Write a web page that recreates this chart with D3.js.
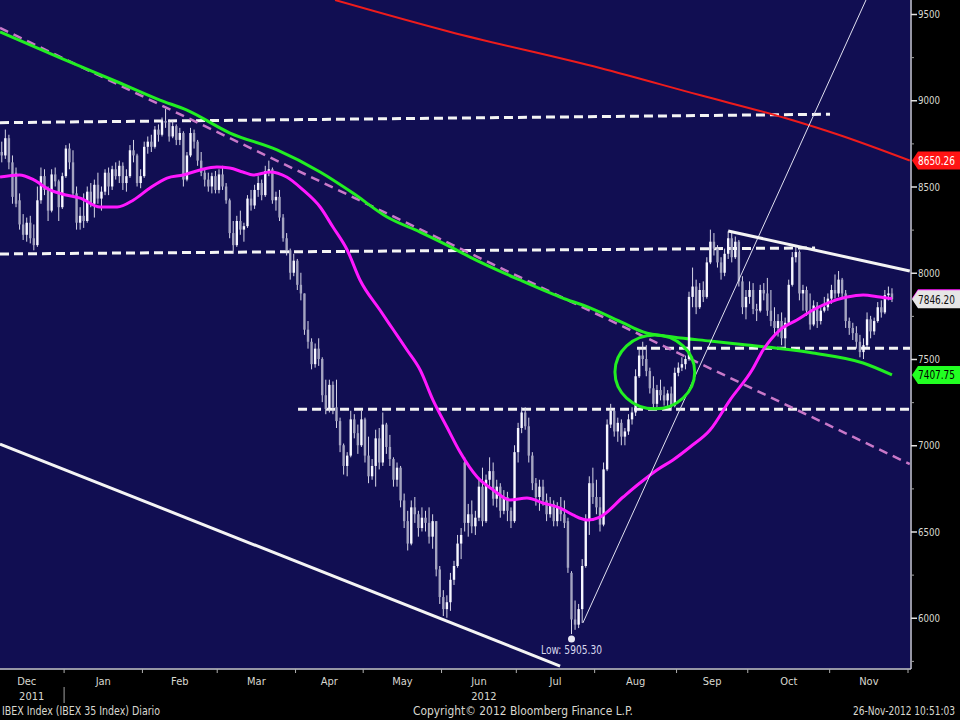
<!DOCTYPE html>
<html>
<head>
<meta charset="utf-8">
<script src="https://cdn.jsdelivr.net/npm/d3@7"></script>
<style>
html, body { margin: 0; padding: 0; background: #000; }
svg { display: block; font-family: "Liberation Sans Narrow", "DejaVu Sans Condensed", "Liberation Sans", sans-serif; }
</style>
</head>
<body>
<svg id="chart" width="960" height="720"></svg>
<script>
// IBEX 35 daily candles, [open, high, low, close], one array per month
const dec11 = [[8700,8760,8640,8680],[8680,8830,8660,8780],[8780,8800,8600,8640],[8640,8680,8400,8440],[8580,8610,8380,8400],[8420,8460,8250,8280],[8280,8340,8190,8220],[8220,8320,8180,8290],[8290,8330,8170,8200],[8200,8280,8130,8160],[8160,8500,8150,8420],[8420,8610,8400,8560],[8560,8600,8450,8480],[8480,8500,8300,8360],[8360,8600,8350,8570],[8570,8610,8500,8530],[8530,8540,8300,8380],[8380,8580,8370,8560]];
const jan12 = [[8560,8740,8550,8720],[8720,8750,8600,8640],[8640,8710,8440,8460],[8460,8500,8250,8290],[8290,8380,8250,8330],[8330,8460,8260,8300],[8300,8500,8290,8470],[8470,8520,8380,8400],[8400,8540,8320,8510],[8510,8580,8400,8430],[8430,8500,8360,8470],[8470,8600,8450,8580],[8580,8610,8450,8500],[8500,8620,8480,8600],[8600,8640,8540,8560],[8560,8650,8520,8620],[8620,8640,8480,8520],[8520,8600,8470,8560],[8560,8740,8550,8710],[8710,8770,8640,8680],[8680,8690,8500,8520],[8520,8600,8490,8560]];
const feb12 = [[8560,8760,8550,8730],[8730,8790,8690,8760],[8760,8800,8700,8730],[8730,8850,8720,8830],[8830,8860,8760,8800],[8800,8900,8790,8880],[8880,8950,8840,8870],[8870,8890,8760,8790],[8790,8880,8780,8850],[8850,8860,8740,8770],[8770,8840,8740,8810],[8810,8820,8500,8540],[8540,8700,8530,8680],[8680,8840,8670,8810],[8810,8830,8720,8760],[8760,8770,8620,8650],[8650,8700,8560,8580],[8580,8600,8500,8540],[8540,8580,8470,8500],[8500,8580,8460,8560],[8560,8590,8460,8480]];
const mar12 = [[8480,8600,8460,8570],[8570,8620,8480,8500],[8500,8520,8400,8420],[8420,8430,8200,8230],[8230,8300,8110,8160],[8160,8330,8150,8300],[8300,8360,8220,8250],[8250,8290,8180,8270],[8270,8450,8260,8430],[8430,8480,8360,8390],[8390,8510,8370,8480],[8480,8560,8440,8520],[8520,8540,8420,8450],[8450,8620,8440,8590],[8590,8650,8560,8600],[8600,8610,8400,8420],[8420,8470,8360,8440],[8440,8480,8300,8320],[8320,8340,8180,8200],[8200,8230,8100,8130],[8130,8140,7960,8000],[8000,8110,7980,8070]];
const apr12 = [[8070,8080,7900,7930],[7930,8000,7840,7880],[7880,7880,7640,7670],[7670,7720,7560,7600],[7600,7620,7440,7470],[7470,7590,7450,7560],[7560,7620,7460,7500],[7500,7510,7250,7290],[7290,7380,7180,7210],[7210,7380,7190,7350],[7350,7370,7180,7220],[7220,7380,7100,7140],[7140,7160,6960,7000],[7000,7010,6830,6880],[6880,6960,6820,6940],[6940,7200,6930,7150],[7150,7180,7040,7070],[7070,7120,6950,7000],[7000,7200,6990,7150]];
const may12 = [[7150,7160,6900,6940],[6940,7050,6780,6820],[6820,6920,6800,6880],[6880,7090,6760,7040],[7040,7100,6860,6900],[6900,7190,6880,7120],[7120,7130,6950,6990],[6990,7060,6880,6920],[6920,6930,6760,6800],[6800,6900,6760,6870],[6870,6880,6640,6680],[6680,6720,6520,6560],[6560,6620,6390,6430],[6430,6680,6420,6640],[6640,6700,6550,6600],[6600,6620,6470,6520],[6520,6640,6500,6580],[6580,6620,6500,6550],[6550,6640,6430,6470],[6470,6600,6400,6560],[6560,6560,6240,6280],[6280,6300,6080,6120]];
const jun12 = [[6120,6160,6010,6050],[6050,6130,6000,6090],[6090,6260,6040,6220],[6220,6330,6190,6300],[6300,6480,6290,6430],[6430,6520,6340,6480],[6900,6930,6500,6550],[6550,6660,6470,6600],[6600,6680,6490,6530],[6530,6620,6480,6580],[6580,6800,6560,6760],[6760,6870,6530,6560],[6560,6830,6550,6800],[6800,6930,6760,6850],[6850,6900,6650,6690],[6690,6800,6640,6760],[6760,6780,6580,6620],[6620,6740,6600,6700],[6700,6730,6560,6620],[6620,6640,6520,6560],[6560,7000,6550,6960]];
const jul12 = [[6960,7130,6900,7100],[7100,7220,7070,7190],[7190,7220,7090,7110],[7110,7160,6900,6940],[6940,6960,6740,6780],[6780,6810,6650,6700],[6700,6800,6620,6760],[6760,6800,6650,6680],[6680,6720,6560,6600],[6600,6700,6580,6660],[6660,6680,6530,6560],[6560,6670,6530,6640],[6640,6700,6560,6600],[6600,6680,6520,6550],[6560,6580,6260,6290],[6260,6270,5905.3,5990],[5990,6100,5930,5960],[5960,6080,5940,6050],[6050,6340,5970,6300],[6300,6600,6290,6560],[6560,6820,6480,6780],[6780,6870,6660,6700]];
const aug12 = [[6700,6800,6600,6640],[6640,6700,6500,6540],[6540,6900,6530,6860],[6860,7150,6850,7120],[7120,7240,7100,7200],[7200,7210,7050,7080],[7080,7160,7020,7130],[7130,7150,7000,7050],[7050,7100,7000,7080],[7080,7180,7060,7150],[7150,7220,7120,7190],[7190,7440,7170,7400],[7400,7560,7390,7520],[7520,7600,7460,7500],[7500,7580,7400,7430],[7430,7450,7300,7330],[7330,7400,7210,7240],[7240,7350,7220,7320],[7320,7380,7260,7290],[7290,7340,7230,7260],[7260,7320,7210,7300],[7300,7340,7200,7230],[7230,7450,7220,7420]];
const sep12 = [[7420,7480,7400,7450],[7450,7510,7430,7470],[7470,7520,7440,7500],[7500,7890,7490,7860],[7860,8030,7800,7920],[7920,7960,7760,7800],[7800,7940,7790,7900],[7900,7950,7830,7860],[7860,8090,7850,8060],[8060,8250,8050,8180],[8180,8230,8100,8140],[8140,8160,8030,8060],[8060,8090,7960,8000],[8000,8140,7980,8110],[8110,8240,8080,8200],[8200,8230,8060,8090],[8090,8210,8080,8180],[8180,8190,7920,7950],[7950,7980,7760,7800],[7800,7900,7730,7860]];
const oct12 = [[7860,7950,7820,7900],[7900,7940,7760,7790],[7790,7820,7720,7780],[7780,7930,7770,7900],[7900,7940,7840,7880],[7880,7970,7750,7780],[7780,7900,7690,7720],[7720,7800,7640,7680],[7680,7760,7630,7720],[7720,7770,7580,7620],[7620,7740,7570,7710],[7710,7960,7700,7930],[7930,8120,7920,8090],[8090,8150,8060,8120],[8120,8130,7840,7880],[7880,7930,7780,7900],[7900,7920,7750,7780],[7780,7880,7670,7700],[7700,7840,7690,7810],[7810,7830,7680,7720],[7720,7800,7700,7780],[7780,7860,7770,7800],[7800,7880,7780,7850]];
const nov12 = [[7850,7930,7820,7900],[7900,7990,7850,7880],[7880,8010,7860,7960],[7960,7970,7850,7880],[7880,7900,7680,7720],[7720,7740,7640,7680],[7680,7710,7610,7650],[7650,7690,7560,7600],[7600,7640,7510,7540],[7540,7620,7500,7580],[7580,7770,7570,7730],[7730,7750,7620,7660],[7660,7740,7640,7720],[7720,7830,7710,7800],[7800,7840,7740,7770],[7770,7900,7760,7870],[7870,7920,7840,7880],[7880,7910,7830,7846.2]];

// moving averages, [day index, value]
const ma50 = [[-0.5,8555],[5,8567],[9,8538],[13.5,8480],[18,8451],[22,8433],[27.6,8381],[32.4,8381],[37,8422],[41.6,8491],[46.4,8549],[51,8567],[55.7,8596],[60.4,8613],[64,8607],[67.7,8584],[70.6,8567],[75.3,8584],[80,8555],[84.6,8480],[89.4,8381],[93,8265],[97,8132],[100.6,7958],[106.2,7784],[110,7668],[113.8,7552],[117.5,7436],[121.1,7262],[125,7106],[128.7,6961],[133.5,6816],[138,6741],[142.7,6683],[147.5,6694],[152,6665],[156.8,6636],[160.4,6596],[164.4,6567],[168,6584],[174.5,6700],[179.2,6781],[184,6857],[188.5,6915],[193.3,6990],[198.9,7088],[204.5,7262],[210.7,7436],[213.8,7552],[218.5,7668],[223.3,7726],[227.8,7784],[232.6,7830],[237.4,7859],[241.9,7871],[246.6,7859],[250,7850]];
const ma200 = [[-0.5,9396],[16.4,9245],[33.2,9100],[44.4,9001],[52,8943],[64.1,8810],[77.3,8712],[89.4,8584],[98.6,8462],[108.2,8323],[117.5,8236],[126.7,8143],[131.5,8091],[145.5,7958],[156.8,7859],[165.2,7796],[174.5,7709],[180.1,7657],[188.5,7628],[198.9,7604],[209.3,7581],[227.8,7535],[241.9,7477],[250,7407.75]];
const maLong = [[93.6,9581],[126,9396],[168,9187],[196,9030],[220,8897],[235,8800],[255,8650.26]];

// drawn annotations, [[day, value], [day, value]]
const dashedLevels = [[[-0.5,8870],[232.6,8919]], [[-0.5,8109],[228.4,8144]], [[178.4,7562],[256,7562]], [[83.2,7209],[256,7209]]];
const pinkTrend = [[-0.5,9419],[255,6891]];
const lowerChannel = [[-0.5,7007],[156.8,5720]];
const upTrend = [[163.2,5970],[242.7,9581]];
const resistance = [[204,8242],[255,8010]];
const circleArea = {day: 183.4, value: 7425, halfDays: 11.2, halfValue: 214};

const holidays = ['2011-12-26', '2012-04-06', '2012-04-09', '2012-05-01'];
const monthNames = ['Dec','Jan','Feb','Mar','Apr','May','Jun','Jul','Aug','Sep','Oct','Nov'];
const yTicks = [6000, 6500, 7000, 7500, 8000, 8500, 9000, 9500];

const W = 960, H = 720;
const plotRight = 910, plotBottom = 668;
const txt = '#d8d8d0';

const fmt = d3.utcFormat('%Y-%m-%d');
const allDays = d3.utcDays(new Date(Date.UTC(2011, 11, 1)), new Date(Date.UTC(2012, 11, 1)))
    .filter(d => d.getUTCDay() !== 0 && d.getUTCDay() !== 6 && !holidays.includes(fmt(d)));
const firstShown = allDays.findIndex(d => fmt(d) === '2011-12-06');

const candles = [].concat(dec11, jan12, feb12, mar12, apr12, may12, jun12, jul12, aug12, sep12, oct12, nov12)
    .map((c, i) => ({i: i, o: c[0], h: c[1], l: c[2], c: c[3]}));

const x = d3.scaleLinear().domain([-0.5, allDays.length - firstShown - 0.5]).range([0, 908]);
const y = d3.scaleLinear().domain([6000, 9500]).range([617.75, 14]);

const svg = d3.select('#chart');
svg.append('rect').attr('width', W).attr('height', H).attr('fill', '#000');
svg.append('rect').attr('width', plotRight).attr('height', plotBottom).attr('fill', '#110e52');

svg.append('clipPath').attr('id', 'plot-clip')
    .append('rect').attr('width', plotRight).attr('height', plotBottom);
const g = svg.append('g').attr('clip-path', 'url(#plot-clip)');

// dashed support / resistance levels
const seg = d3.line().x(d => x(d[0])).y(d => y(d[1]));
dashedLevels.forEach(lv => {
    g.append('path').attr('d', seg(lv))
        .attr('stroke', '#f4f4f4').attr('stroke-width', 3)
        .attr('stroke-dasharray', '9,5').attr('fill', 'none');
});

g.append('path').attr('d', seg(pinkTrend))
    .attr('stroke', '#c978c9').attr('stroke-width', 2.5)
    .attr('stroke-dasharray', '9,6').attr('fill', 'none');

// moving averages
const smooth = d3.line().x(d => x(d[0])).y(d => y(d[1])).curve(d3.curveMonotoneX);
g.append('path').attr('d', smooth(maLong)).attr('stroke', '#ee1c1c').attr('stroke-width', 2).attr('fill', 'none');
g.append('path').attr('d', smooth(ma200)).attr('stroke', '#22ee22').attr('stroke-width', 3).attr('fill', 'none');

// candles
const bw = 2.4;
const cg = g.append('g');
cg.selectAll('line.wick').data(candles).enter().append('line')
    .attr('class', 'wick')
    .attr('x1', d => x(d.i)).attr('x2', d => x(d.i))
    .attr('y1', d => y(d.h)).attr('y2', d => y(d.l))
    .attr('stroke', '#d6d6e6').attr('stroke-width', 1);
cg.selectAll('rect.body').data(candles).enter().append('rect')
    .attr('class', 'body')
    .attr('x', d => x(d.i) - bw / 2).attr('width', bw)
    .attr('y', d => y(Math.max(d.o, d.c)))
    .attr('height', d => Math.max(1, Math.abs(y(d.o) - y(d.c))))
    .attr('fill', d => d.c >= d.o ? '#f6f6ff' : '#a4a4c0');

g.append('path').attr('d', smooth(ma50)).attr('stroke', '#ff18ff').attr('stroke-width', 3).attr('fill', 'none');

// trend lines
g.append('path').attr('d', seg(lowerChannel)).attr('stroke', '#f4f4f4').attr('stroke-width', 3).attr('fill', 'none');
g.append('path').attr('d', seg(upTrend)).attr('stroke', '#e0e0f0').attr('stroke-width', 1).attr('fill', 'none');
g.append('path').attr('d', seg(resistance)).attr('stroke', '#f4f4f4').attr('stroke-width', 3).attr('fill', 'none');

g.append('ellipse')
    .attr('cx', x(circleArea.day)).attr('cy', y(circleArea.value))
    .attr('rx', x(circleArea.day + circleArea.halfDays) - x(circleArea.day))
    .attr('ry', y(circleArea.value - circleArea.halfValue) - y(circleArea.value))
    .attr('stroke', '#22ee22').attr('stroke-width', 3).attr('fill', 'none');

// low marker
const lowCandle = candles.reduce((a, b) => b.l < a.l ? b : a);
g.append('circle').attr('cx', x(lowCandle.i)).attr('cy', y(lowCandle.l) + 5).attr('r', 3.5).attr('fill', '#e8e8f4');
g.append('text').attr('x', x(lowCandle.i)).attr('y', y(lowCandle.l) + 20)
    .attr('text-anchor', 'middle').attr('fill', '#d8d8ee').attr('font-size', 11.5)
    .attr('textLength', 61).attr('lengthAdjust', 'spacingAndGlyphs')
    .text('Low: ' + d3.format('.2f')(lowCandle.l));

// frame
svg.append('line').attr('x1', plotRight + 1).attr('x2', plotRight + 1).attr('y1', 0).attr('y2', plotBottom + 1)
    .attr('stroke', '#c8c8dc').attr('stroke-width', 1.5);
svg.append('line').attr('x1', 0).attr('x2', plotRight + 1).attr('y1', plotBottom + 1).attr('y2', plotBottom + 1)
    .attr('stroke', '#c8c8dc').attr('stroke-width', 1.5);

// right axis
const minor = d3.range(5750, 9751, 250).filter(v => v % 500 !== 0);
const ax = svg.append('g').attr('transform', `translate(${plotRight + 1},0)`);
ax.call(d3.axisRight(y).tickValues(yTicks).tickSize(6).tickFormat(d3.format('d')));
ax.call(a => a.select('.domain').remove());
ax.selectAll('line').attr('stroke', '#e0e0e0').attr('stroke-width', 1.5);
ax.selectAll('text').attr('fill', txt).attr('font-size', 11).attr('x', 7)
    .attr('textLength', 22).attr('lengthAdjust', 'spacingAndGlyphs')
    .attr('font-family', '"Liberation Sans Narrow", "DejaVu Sans Condensed", sans-serif');
const axm = svg.append('g').attr('transform', `translate(${plotRight + 1},0)`);
axm.call(d3.axisRight(y).tickValues(minor).tickSize(3).tickFormat(''));
axm.call(a => a.select('.domain').remove());
axm.selectAll('line').attr('stroke', '#a0a0a0');

// value tags
function tag(v, bg, fg, label) {
    const yy = y(v);
    svg.append('path')
        .attr('d', `M${plotRight + 2},${yy} L${plotRight + 8},${yy - 9} L${W},${yy - 9} L${W},${yy + 9} L${plotRight + 8},${yy + 9} Z`)
        .attr('fill', bg);
    if (label) {
        svg.append('text').attr('x', plotRight + 8).attr('y', yy + 4.5)
            .attr('fill', fg).attr('font-size', 12)
            .attr('textLength', 37).attr('lengthAdjust', 'spacingAndGlyphs').text(label);
    }
}
const last = candles[candles.length - 1];
tag(maLong[maLong.length - 1][1], '#ff1414', '#ffffff', d3.format('.2f')(maLong[maLong.length - 1][1]));
tag(ma50[ma50.length - 1][1] + 2, '#ff18ff', '#000', '');
tag(last.c, '#e6e6e6', '#101010', d3.format('.2f')(last.c));
tag(ma200[ma200.length - 1][1], '#22ff22', '#000000', d3.format('.2f')(ma200[ma200.length - 1][1]));

// month axis
const monthStarts = [];
allDays.forEach((d, k) => {
    if (k === 0 || d.getUTCMonth() !== allDays[k - 1].getUTCMonth()) monthStarts.push(k - firstShown);
});
monthStarts.push(allDays.length - firstShown);
const bx = svg.append('g');
monthStarts.forEach((s, k) => {
    if (s > -0.5) {
        bx.append('line').attr('x1', x(s - 0.5)).attr('x2', x(s - 0.5))
            .attr('y1', plotBottom + 1).attr('y2', plotBottom + 5)
            .attr('stroke', '#b0b0b0').attr('stroke-width', 1);
    }
    if (k < monthNames.length) {
        const cx = (x(s - 0.5) + x(monthStarts[k + 1] - 0.5)) / 2;
        bx.append('text').attr('x', cx).attr('y', 685).attr('text-anchor', 'middle')
            .attr('fill', txt).attr('font-size', 11).text(monthNames[k]);
        if (k === 0 || k === 6) {
            bx.append('text').attr('x', cx + 5).attr('y', 700).attr('text-anchor', 'middle')
                .attr('fill', txt).attr('font-size', 11).text(k === 0 ? '2011' : '2012');
        }
    }
});
bx.append('line').attr('x1', x(monthStarts[1] - 0.5)).attr('x2', x(monthStarts[1] - 0.5))
    .attr('y1', 687).attr('y2', 703).attr('stroke', '#a0a0a0');

// footer
svg.append('text').attr('x', 2).attr('y', 715).attr('fill', txt).attr('font-size', 11.5)
    .attr('textLength', 158).attr('lengthAdjust', 'spacingAndGlyphs')
    .text('IBEX Index (IBEX 35 Index) Diario');
svg.append('text').attr('x', 413).attr('y', 715).attr('fill', txt).attr('font-size', 11.5)
    .attr('textLength', 220).attr('lengthAdjust', 'spacingAndGlyphs')
    .text('Copyright\u00a9 2012 Bloomberg Finance L.P.');
svg.append('text').attr('x', 853).attr('y', 715).attr('fill', txt).attr('font-size', 11.5)
    .attr('textLength', 102).attr('lengthAdjust', 'spacingAndGlyphs')
    .text('26-Nov-2012 10:51:03');
</script>
</body>
</html>
